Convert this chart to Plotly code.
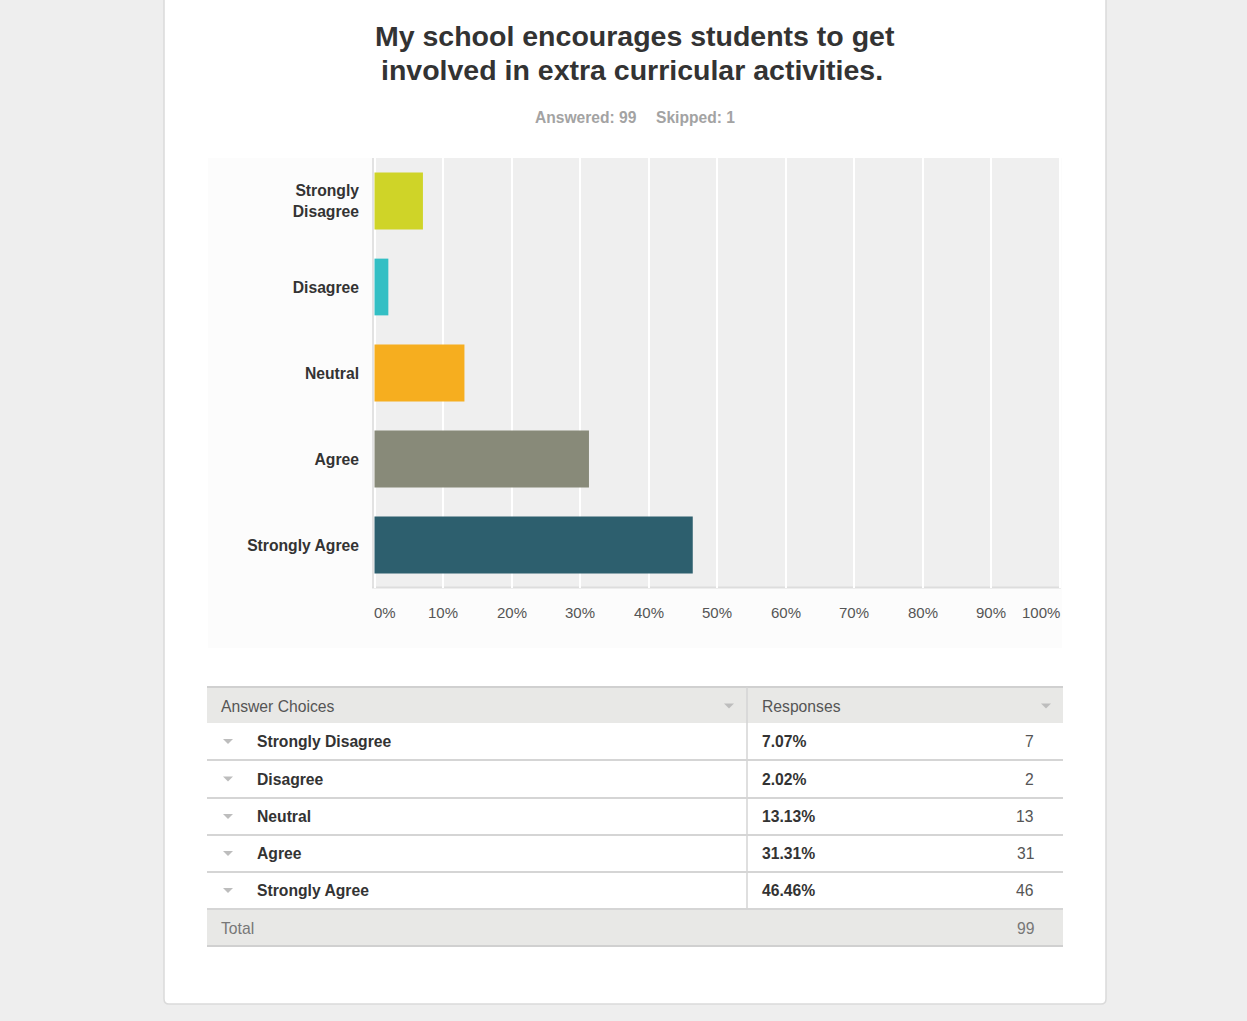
import plotly.graph_objects as go

# ---- survey data -------------------------------------------------------
QUESTION = "My school encourages students to get<br>involved in extra curricular activities."
ANSWERED = 99
SKIPPED = 1
CATEGORIES = ["Strongly Disagree", "Disagree", "Neutral", "Agree", "Strongly Agree"]
AXIS_LABELS = ["Strongly<br>Disagree", "Disagree", "Neutral", "Agree", "Strongly Agree"]
PERCENTS = [7.07, 2.02, 13.13, 31.31, 46.46]
COUNTS = [7, 2, 13, 31, 46]
X_TICKS = [0, 10, 20, 30, 40, 50, 60, 70, 80, 90, 100]

BAR_COLORS = ["#cfd428", "#33bfc4", "#f6ae1f", "#888a79", "#2d5f6e"]

W, H = 1247, 1021
FONT = "Liberation Sans, Arial, Helvetica, sans-serif"


def px(x):
    return x / W


def py(y):
    return 1 - y / H


def rect(x0, y0, x1, y1, fill, line=None, lw=0):
    return dict(type="rect", xref="paper", yref="paper", layer="below",
                x0=px(x0), x1=px(x1), y0=py(y1), y1=py(y0),
                fillcolor=fill, line=dict(color=line or fill, width=lw))


def hline(x0, x1, y, color, lw):
    return dict(type="line", xref="paper", yref="paper", layer="below",
                x0=px(x0), x1=px(x1), y0=py(y), y1=py(y),
                line=dict(color=color, width=lw))


def vline(x, y0, y1, color, lw):
    return dict(type="line", xref="paper", yref="paper", layer="below",
                x0=px(x), x1=px(x), y0=py(y0), y1=py(y1),
                line=dict(color=color, width=lw))


def caret(cx, cy, color="#bdbdbd", w=10, h=5):
    path = (f"M {px(cx - w / 2)},{py(cy - h / 2)} L {px(cx + w / 2)},{py(cy - h / 2)} "
            f"L {px(cx)},{py(cy + h / 2)} Z")
    return dict(type="path", xref="paper", yref="paper", layer="above",
                path=path, fillcolor=color, line=dict(width=0))


def text(x, y, s, size=15.7, color="#333333", bold=False, anchor="left"):
    return dict(xref="paper", yref="paper", x=px(x), y=py(y), text=s,
                showarrow=False, xanchor=anchor, yanchor="middle",
                font=dict(family=FONT, size=size, color=color,
                          weight="bold" if bold else "normal"))


# plot area in page pixels
PL, PR, PT, PB = 372, 1061, 158, 588
X0_PX, X100_PX = 374.5, 1059.5
scale = (X100_PX - X0_PX) / 100
x_range = [(PL - X0_PX) / scale, (PR - X0_PX) / scale]

fig = go.Figure()
fig.add_trace(go.Bar(
    x=PERCENTS, y=CATEGORIES, orientation="h",
    marker=dict(color=BAR_COLORS, line=dict(width=0)),
    width=0.66, hoverinfo="x+y",
))

shapes = []
# page card with rounded bottom corners
r = 5
cl, cr, ct, cb = 164, 1106, -5, 1004
card_path = (f"M {px(cl)},{py(ct)} L {px(cr)},{py(ct)} L {px(cr)},{py(cb - r)} "
             f"Q {px(cr)},{py(cb)} {px(cr - r)},{py(cb)} L {px(cl + r)},{py(cb)} "
             f"Q {px(cl)},{py(cb)} {px(cl)},{py(cb - r)} Z")
shapes.append(dict(type="path", xref="paper", yref="paper", layer="below",
                   path=card_path, fillcolor="#ffffff",
                   line=dict(color="#dadada", width=1.5)))
# chart container and plot background
shapes.append(rect(208, 158, 1062, 648, "#fcfcfc"))
shapes.append(rect(PL, PT, PR, PB, "#efefef"))
shapes.append(vline(PL + 1, PT, PB, "#e2e2e2", 2))
shapes.append(hline(PL, PR, PB - 0.5, "#dddddd", 2))

# response table
TL, TR, TD = 207, 1063, 747
ROW_Y = [723, 760, 798, 835, 872, 909]
shapes.append(rect(TL, 687, TR, 723, "#e8e8e6"))
shapes.append(rect(TL, 909, TR, 946, "#e8e8e6"))
shapes.append(hline(TL, TR, 687, "#d0d0d0", 2))
for yy in ROW_Y[1:]:
    shapes.append(hline(TL, TR, yy, "#d5d5d5", 2))
shapes.append(hline(TL, TR, 946, "#d0d0d0", 2))
shapes.append(vline(TD, 687, 909, "#d5d5d5", 1.5))
shapes.append(caret(729, 706))
shapes.append(caret(1046, 706))

annotations = []
# question title, one annotation per line for tighter leading
for line_text, lx, ly in zip(QUESTION.split("<br>"), [635, 632], [36, 70]):
    annotations.append(dict(xref="paper", yref="paper", x=px(lx), y=py(ly), text=line_text,
                            showarrow=False, xanchor="center", yanchor="middle",
                            font=dict(family=FONT, size=28.5, color="#333333", weight="bold")))
annotations.append(text(586, 117, f"Answered: {ANSWERED}", size=15.6, color="#a3a3a3",
                        bold=True, anchor="center"))
annotations.append(text(695.5, 117, f"Skipped: {SKIPPED}", size=15.6, color="#a3a3a3",
                        bold=True, anchor="center"))

# x tick labels, end labels kept inside the plot width
for t in X_TICKS:
    if t == X_TICKS[0]:
        anchor, shift = "left", -2.5
    elif t == X_TICKS[-1]:
        anchor, shift = "right", 2
    else:
        anchor, shift = "center", 0
    annotations.append(dict(xref="x", yref="paper", x=t, y=py(612), text=f"{t}%",
                            showarrow=False, xanchor=anchor, yanchor="middle", xshift=shift,
                            font=dict(family=FONT, size=15, color="#555555")))

annotations.append(text(219, 706, "Answer Choices", color="#555555"))
annotations.append(text(760, 706, "Responses", color="#555555"))
for i, (cat, pct, cnt) in enumerate(zip(CATEGORIES, PERCENTS, COUNTS)):
    cy = (ROW_Y[i] + ROW_Y[i + 1]) / 2
    shapes.append(caret(228, cy))
    annotations.append(text(255, cy, cat, bold=True))
    annotations.append(text(760, cy, f"{pct:.2f}%", bold=True))
    annotations.append(text(1036, cy, str(cnt), color="#555555", anchor="right"))
annotations.append(text(219, 928, "Total", color="#777777"))
annotations.append(text(1036, 928, str(sum(COUNTS)), color="#777777", anchor="right"))

fig.update_layout(
    width=W, height=H, autosize=False,
    margin=dict(l=0, r=0, t=0, b=0),
    paper_bgcolor="#eeeeee", plot_bgcolor="rgba(0,0,0,0)",
    showlegend=False, bargap=0.34,
    shapes=shapes, annotations=annotations,
    xaxis=dict(domain=[px(PL), px(PR)], range=x_range, tickvals=X_TICKS,
               showticklabels=False, showgrid=True, gridcolor="#ffffff",
               gridwidth=1.5, zeroline=False, showline=False, fixedrange=True),
    yaxis=dict(domain=[py(PB), py(PT)], type="category",
               categoryorder="array", categoryarray=CATEGORIES,
               range=[len(CATEGORIES) - 0.5, -0.5],
               tickvals=CATEGORIES, ticktext=AXIS_LABELS,
               tickfont=dict(family=FONT, size=15.7, color="#333333", weight="bold"),
               ticks="", ticklabelstandoff=12, showgrid=False,
               zeroline=False, showline=False, fixedrange=True),
)

fig.write_html("out.html")
